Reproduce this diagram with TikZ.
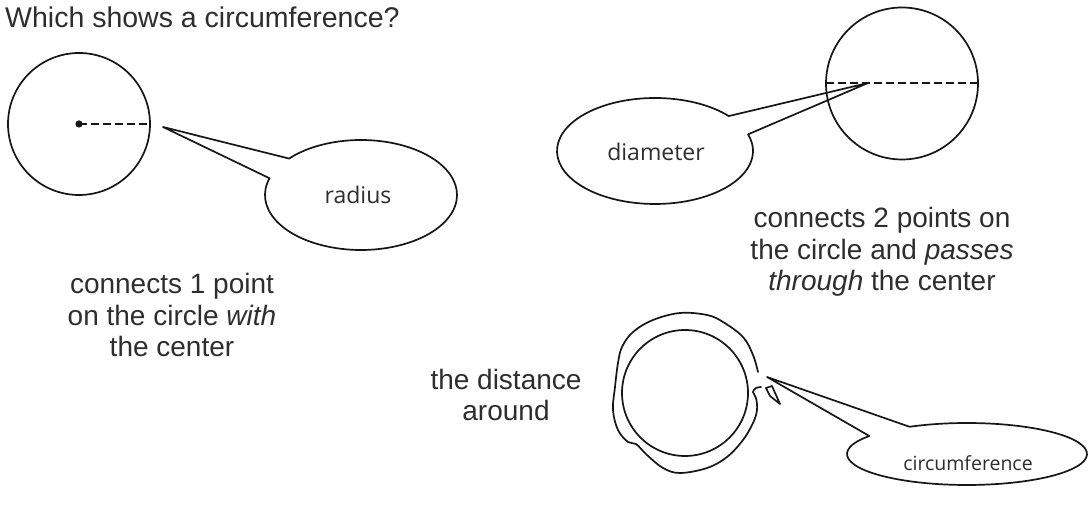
\documentclass[tikz,border=0pt]{standalone}
\usepackage{fontspec}
\setmainfont{Liberation Sans}
\newfontfamily\calloutfont{Open Sans}
\usetikzlibrary{calc}
\definecolor{ink}{HTML}{161616}
\definecolor{txt}{HTML}{2E2E2E}
\tikzset{
  shape line/.style={draw=ink, line width=1.7pt, line join=round, line cap=round},
  dashline/.style={draw=ink, line width=1.6pt, dash pattern=on 7.5pt off 4.5pt},
  body/.style={text=txt, inner sep=0pt, anchor=base, font=\fontsize{28}{31.5}\selectfont},
  callouttext/.style={text=txt, inner sep=0pt, font=\calloutfont\fontsize{23}{27}\selectfont},
}
\begin{document}
\begin{tikzpicture}[x=1pt,y=1pt]
\useasboundingbox (0,0) rectangle (1090,508);
\fill[white] (0,0) rectangle (1090,508);

% title
\node[body, anchor=base west, font=\fontsize{28.5}{32}\selectfont] (title) at (5,480) {Which shows a circumference?};

% ---------- radius ----------
\coordinate (c1) at (79,384);
\draw[shape line] (c1) circle[radius=71];
\fill[ink] (c1) circle[radius=3.6];
\coordinate (c1e) at (150,384);
\draw[dashline] (c1) -- (c1e);
\coordinate (rc) at (361,313);
\coordinate (rtip) at (163,381);
\coordinate (rB) at ($(rc)+(162.3:96 and 55)$);
\draw[shape line] (rtip) -- (rB) arc[start angle=162.3, end angle=498.5, x radius=96, y radius=55] -- cycle;
\node[callouttext] (rlabel) at (358,313) {radius};

\node[body] (b1a) at (172,214) {connects 1 point};
\node[body] (b1b) at (172,182.5) {on the circle \textit{with}};
\node[body] (b1c) at (172,151) {the center};

% ---------- diameter ----------
\coordinate (c2) at (902,424.5);
\draw[shape line] (c2) circle[radius=76];
\coordinate (c2w) at (826,425);
\coordinate (c2e) at (978,425);
\draw[dashline] (c2w) -- (c2e);
\coordinate (dc) at (655,357);
\coordinate (dtip) at (868,425);
\coordinate (dA) at ($(dc)+(41.2:98 and 53)$);
\draw[shape line] (dtip) -- (dA) arc[start angle=41.2, end angle=378.3, x radius=98, y radius=53] -- cycle;
\node[callouttext] (dlabel) at (656,356) {diameter};

\node[body] (b2a) at (882,280) {connects 2 points on};
\node[body] (b2b) at (882,248.5) {the circle and \textit{passes}};
\node[body] (b2c) at (882,217) {\textit{through} the center};

% ---------- circumference ----------
\coordinate (c3) at (685,115);
\draw[shape line] (c3) circle[radius=63];
\draw[shape line] plot[smooth, tension=0.6] coordinates {
 (758,136) (753,153) (743,171) (723,186) (707,193) (680,195) (653,188)
 (633,176) (622,161) (618,145) (615,121) (613,98) (618,78) (628,66)
 (636,64) (647,53) (663,40) (680,35) (707,40) (727,51) (743,68)
 (753,85) (757,98) (756,110) (753,116) (756,120) (761,121)};
\draw[shape line] (766,120) -- (772,122) -- (780,104) -- (770,112) -- cycle;
\coordinate (cc) at (967,54);
\coordinate (ctip) at (767,131);
\coordinate (cB) at ($(cc)+(144.5:120 and 31)$);
\draw[shape line] (ctip) -- (cB) arc[start angle=144.5, end angle=478.6, x radius=120, y radius=31] -- cycle;
\node[callouttext, font=\calloutfont\fontsize{19.5}{23}\selectfont] (clabel) at (968,45) {circumference};

\node[body] (b3a) at (506,118) {the distance};
\node[body] (b3b) at (506,87) {around};
\end{tikzpicture}
\end{document}
